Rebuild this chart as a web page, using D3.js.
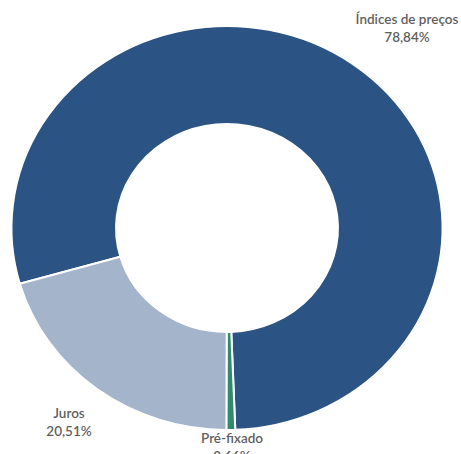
<!DOCTYPE html>
<html>
<head>
<meta charset="utf-8">
<script src="https://cdn.jsdelivr.net/npm/d3@7/dist/d3.min.js"></script>
<style>
  html, body { margin: 0; padding: 0; background: #fff; }
  svg { display: block; }
</style>
</head>
<body>
<svg id="chart" width="461" height="454"></svg>
<script>
// Composition of the portfolio by indexer (percent)
const categories = ["Índices de preços", "Pré-fixado", "Juros"];
const shares = [78.84, 0.66, 20.51];
const shareLabels = ["78,84%", "0,66%", "20,51%"];
const colors = ["#2b5384", "#2f8a6e", "#a4b4ca"];

const width = 461, height = 454;
const cx = 227, cy = 228;
const outerR = 202, innerR = 104;
const stretchX = 1.067;

const svg = d3.select("#chart");

const data = categories.map((name, i) => ({ name, value: shares[i], label: shareLabels[i], color: colors[i] }));

const pie = d3.pie()
  .sort(null)
  .value(d => d.value)
  .startAngle(-106 * Math.PI / 180)
  .endAngle((360 - 106) * Math.PI / 180);

const arc = d3.arc().innerRadius(innerR).outerRadius(outerR);

const ring = svg.append("g")
  .attr("transform", `translate(${cx},${cy}) scale(${stretchX},1)`);

ring.selectAll("path")
  .data(pie(data))
  .join("path")
  .attr("d", arc)
  .attr("fill", d => d.data.color)
  .attr("stroke", "#ffffff")
  .attr("stroke-width", 2)
  .attr("vector-effect", "non-scaling-stroke");

// Data label placement (name on top, percentage below)
const labelPos = {
  "Índices de preços": [407, 24],
  "Juros": [69, 418],
  "Pré-fixado": [232, 443]
};

const labels = svg.append("g")
  .attr("font-family", "Lato, 'Open Sans', sans-serif")
  .attr("font-size", 13.5)
  .attr("font-weight", 600)
  .attr("fill", "#5f5f5f")
  .attr("text-anchor", "middle");

data.forEach(d => {
  const [x, y] = labelPos[d.name];
  const t = labels.append("text").attr("x", x).attr("y", y);
  t.append("tspan").attr("x", x).attr("dy", 0).text(d.name);
  t.append("tspan").attr("x", x).attr("dy", 18).text(d.label);
});
</script>
</body>
</html>
